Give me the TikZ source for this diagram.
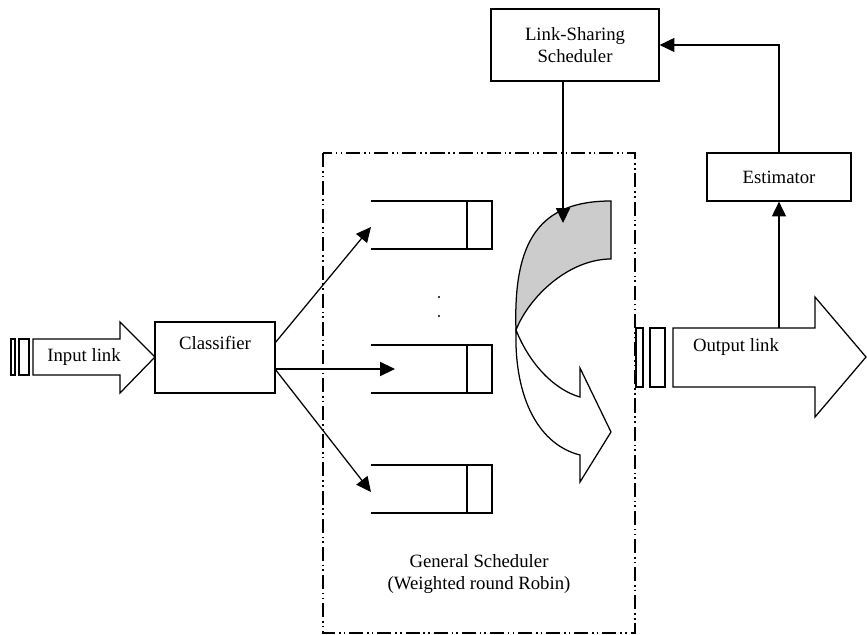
\documentclass[tikz,border=0pt]{standalone}
\usepackage{fontspec}
\setmainfont{Liberation Serif}
\usepackage{tikz}
\usetikzlibrary{arrows.meta,positioning}

\begin{document}
\begin{tikzpicture}[x=0.64pt, y=-0.64pt, line width=0.8pt,
  every node/.style={font=\fontsize{12}{14}\selectfont},
  box/.style={draw, inner sep=0pt},
  arr/.style={-{Triangle[length=9.5pt, width=9pt]}},
  frame/.style={dash pattern=on 9pt off 2.5pt on 1pt off 2pt on 1pt off 2.5pt}]

  \newcommand\PX{0.64pt};

  \useasboundingbox (0,0) rectangle (867,635);

  %% general scheduler frame
  \draw[frame] (323,153) rectangle (635,633);
  \node[align=center] (gs) at (479,574) {General Scheduler\\(Weighted round Robin)};

  %% input link
  \draw (11,339) rectangle (15,375);
  \draw (19,339) rectangle (29,375);
  \draw (33,339) -- (120,339) -- (120,322) -- (155,357) -- (120,393) -- (120,375) -- (33,375) -- cycle;
  \node (in) at (84,357) {Input link};

  %% classifier
  \node[box, minimum width=120*\PX, minimum height=71*\PX] (cls) at (215,357.5) {};
  \node[below=6pt of cls.north] {Classifier};

  %% queues
  \foreach \i/\y in {1/225, 2/369, 3/489} {
    \coordinate (q\i) at (371,\y);
    \draw (q\i) +(0,-24) -- +(121,-24) -- +(121,24) -- +(0,24);
    \draw (q\i) +(96,-24) -- +(96,24);
  }
  \fill (439,297) circle (1.1);
  \fill (439,316) circle (1.1);

  \coordinate (c1) at (275,343);
  \coordinate (c2) at (275,369);
  \coordinate (q2in) at (395,369);
  \draw[arr] (c1) -- ([yshift=-2*\PX]q1); % cls->q1
  \draw[arr] (c2) -- (q2in); % cls->q2
  \draw[arr] (c2) -- ([yshift=-3*\PX]q3); % cls->q3

  %% round robin arrow
  \draw[fill=white] (516,330) .. controls (530,365) and (555,390) .. (580,397)
    -- (580,368) -- (611,432) -- (580,482) -- (580,455)
    .. controls (540,445) and (514,400) .. (516,330) -- cycle;
  \draw[fill=gray!40] (611,201) .. controls (540,201) and (513,240) .. (516,330)
    .. controls (530,295) and (570,259) .. (611,259) -- cycle;

  %% link-sharing scheduler
  \node[box, minimum width=168*\PX, minimum height=72*\PX, align=center] (ls) at (575,45) {Link-Sharing\\Scheduler};
  \coordinate (rr) at (563,223);
  \draw[arr] (ls.south -| rr) -- (rr); %% ls->rr

  %% output link
  \draw (636,328) rectangle (643,387);
  \draw (650,328) rectangle (665,387);
  \draw (673,328) -- (815,328) -- (815,297) -- (866,357) -- (815,417) -- (815,387) -- (673,387) -- cycle;
  \node (out) at (736,347) {Output link};

  %% estimator
  \node[box, minimum width=144*\PX, minimum height=48*\PX] (est) at (779,177) {Estimator};
  \coordinate (tap) at (779,328);
  \draw[arr] (tap) -- (est.south); %% out->est
  \draw[arr] (est.north) |- (ls.east); %% est->ls

\end{tikzpicture}
\end{document}
